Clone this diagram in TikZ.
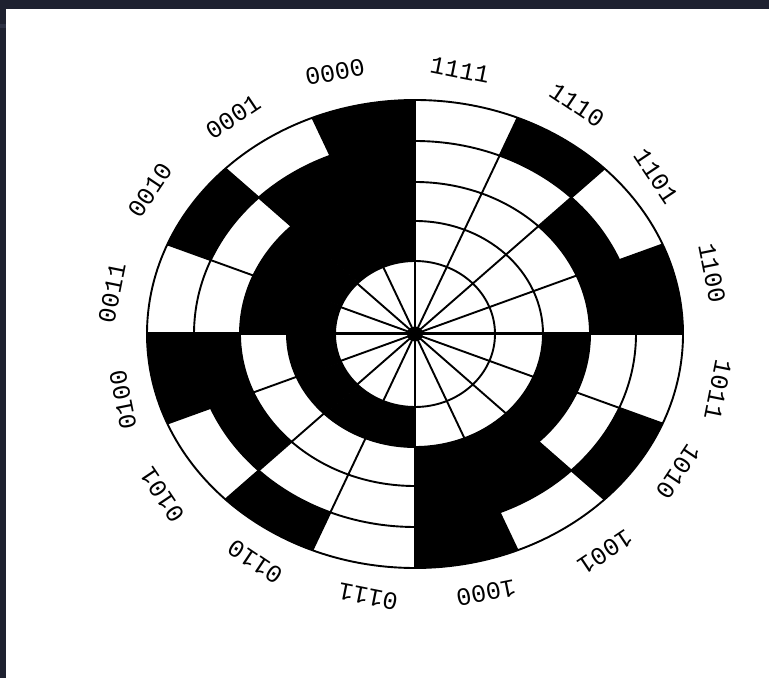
\documentclass[tikz,border=0pt]{standalone}
\usepackage{fontspec}
\usetikzlibrary{calc}
\newfontfamily\labelfont{Liberation Mono}
\definecolor{frame}{HTML}{1E2130}
\definecolor{framelight}{HTML}{2D3144}
\tikzset{
  grid line/.style={draw=black,line width=1.9pt},
  axis line/.style={draw=black,line width=3pt},
  bit cell/.style={fill=black,draw=black,line width=0.6pt},
  code label/.style={font=\labelfont\fontsize{25}{25}\selectfont,text=black,inner sep=0pt,anchor=center}
}
\begin{document}
\begin{tikzpicture}[x=1pt,y=1pt]
\useasboundingbox (0,0) rectangle (769,678);
\fill[frame] (0,0) rectangle (769,678);
\fill[framelight] (0,650) rectangle (6,654);
\fill[white] (6,0) rectangle (769,669);
\coordinate (c) at (415,344);
% black cells: clockwise sector index from the top / ring indices from the inside out
\foreach \s/\rings in {
  1/{4}, 2/{3}, 3/{3,4}, 4/{2}, 5/{2,4}, 6/{2,3}, 7/{2,3,4},
  8/{1}, 9/{1,4}, 10/{1,3}, 11/{1,3,4}, 12/{1,2}, 13/{1,2,4}, 14/{1,2,3}, 15/{1,2,3,4}}{
  \foreach \k in \rings {
    \pgfmathsetmacro{\aO}{90-22.5*\s}
    \pgfmathsetmacro{\aT}{90-22.5*(\s+1)}
    \pgfmathsetmacro{\rxi}{{80,128,175,221}[\k-1]}
    \pgfmathsetmacro{\ryi}{{73,113,152,193}[\k-1]}
    \pgfmathsetmacro{\rxo}{{128,175,221,268}[\k-1]}
    \pgfmathsetmacro{\ryo}{{113,152,193,234}[\k-1]}
    \path[bit cell] ($(c)+({\rxi*cos(\aO)},{\ryi*sin(\aO)})$)
      arc[start angle=\aO,end angle=\aT,x radius=\rxi,y radius=\ryi]
      -- ($(c)+({\rxo*cos(\aT)},{\ryo*sin(\aT)})$)
      arc[start angle=\aT,end angle=\aO,x radius=\rxo,y radius=\ryo]
      -- cycle;
  }
}
\foreach \rx/\ry in {80/73,128/113,175/152,221/193,268/234}{
  \draw[grid line] (c) ellipse[x radius=\rx,y radius=\ry];
}
\foreach \s in {1,2,3,4,5,6,7,8,9,10,11,12,13,14,15}{
  \pgfmathsetmacro{\ang}{90-22.5*\s}
  \draw[grid line] (c) -- ($(c)+({268*cos(\ang)},{234*sin(\ang)})$);
}
\draw[grid line] (c) -- ($(c)+(0,234)$);
\draw[axis line] ($(c)+(-268,0)$) -- ($(c)+(268,0)$);
\fill[black] (c) ellipse[x radius=8,y radius=7.5];
\foreach \t/\px/\py/\rot in {
  1111/460/70/-11.25, 1110/577/105/-33.75, 1101/656/176/-56.25, 1100/712/273/-78.75,
  1011/718/390/-101.25, 1010/678/472/-123.75, 1001/605/552/-146.25, 1000/486/593/-168.75,
  0111/368/597/-191.25, 0110/255/562/-213.75, 0101/162/495/-236.25, 0100/123/400/-258.75,
  0011/112/293/-281.25, 0010/150/190/-303.75, 0001/233/117/-326.25, 0000/335/72/-348.75}{
  \node[code label,rotate=\rot] (lab\t) at (\px,678-\py) {\t};
}
\end{tikzpicture}
\end{document}
